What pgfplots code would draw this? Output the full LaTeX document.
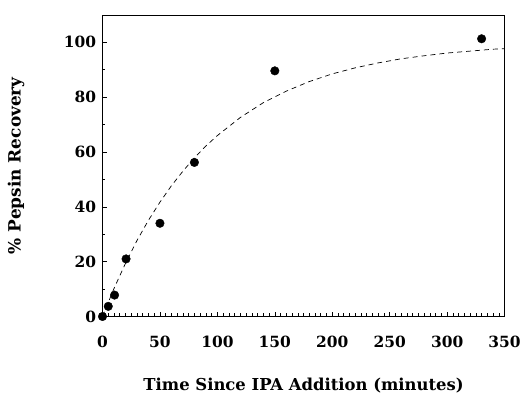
\documentclass[border=0pt]{standalone}
\usepackage{fontspec}
\setmainfont{DejaVu Serif}
\usepackage{pgfplots}
\pgfplotsset{compat=1.18}
\begin{document}
\begin{tikzpicture}[x=1pt,y=1pt]
\begin{axis}[
  scale only axis,
  width=404pt, height=303pt,
  xmin=0, xmax=350, ymin=0, ymax=110,
  xtick={0,50,...,350}, ytick={0,20,...,100},
  minor x tick num=9, minor y tick num=1,
  xtick pos=bottom, ytick pos=left,
  tick align=inside,
  major tick length=5pt, minor tick length=3pt,
  every tick/.style={black, line width=0.6pt},
  axis line style={line width=0.7pt},
  /pgf/number format/assume math mode=true,
  ticklabel style={font=\fontsize{15.5}{18}\selectfont\bfseries},
  xticklabel style={yshift=-16pt},
  yticklabel style={xshift=-3pt},
  xlabel={Time Since IPA Addition (minutes)},
  ylabel={\% Pepsin Recovery},
  xlabel style={font=\fontsize{16.5}{19}\selectfont\bfseries, at={(axis description cs:0.5,-0.228)}, anchor=center},
  ylabel style={font=\fontsize{17}{19}\selectfont\bfseries, at={(axis description cs:-0.215,0.5)}, anchor=center, rotate=0},
  clip=false,
]
\addplot[black, line width=0.7pt, dash pattern=on 5pt off 4pt] coordinates {
(0,0) (10,10.2) (20,19.4) (30,27.7) (40,35.1) (50,41.7) (60,47.7) (70,53.0)
(80,57.9) (90,62.2) (100,66.0) (120,72.6) (140,78.0) (160,82.2) (180,85.7)
(200,88.5) (220,90.7) (240,92.5) (260,94.0) (280,95.1) (300,96.1) (320,96.8)
(340,97.5) (350,97.7)
};
\addplot[only marks, mark=*, mark size=4.3pt, black] coordinates {
(0,0) (5,3.7) (10.5,7.8) (20.5,21) (50,34) (80,56.2) (150,89.6) (330,101.3)
};
\path (rel axis cs:0,0.5) ++(-103pt,0);
\path (rel axis cs:1,1) ++(0,15pt);
\end{axis}
\end{tikzpicture}
\end{document}
